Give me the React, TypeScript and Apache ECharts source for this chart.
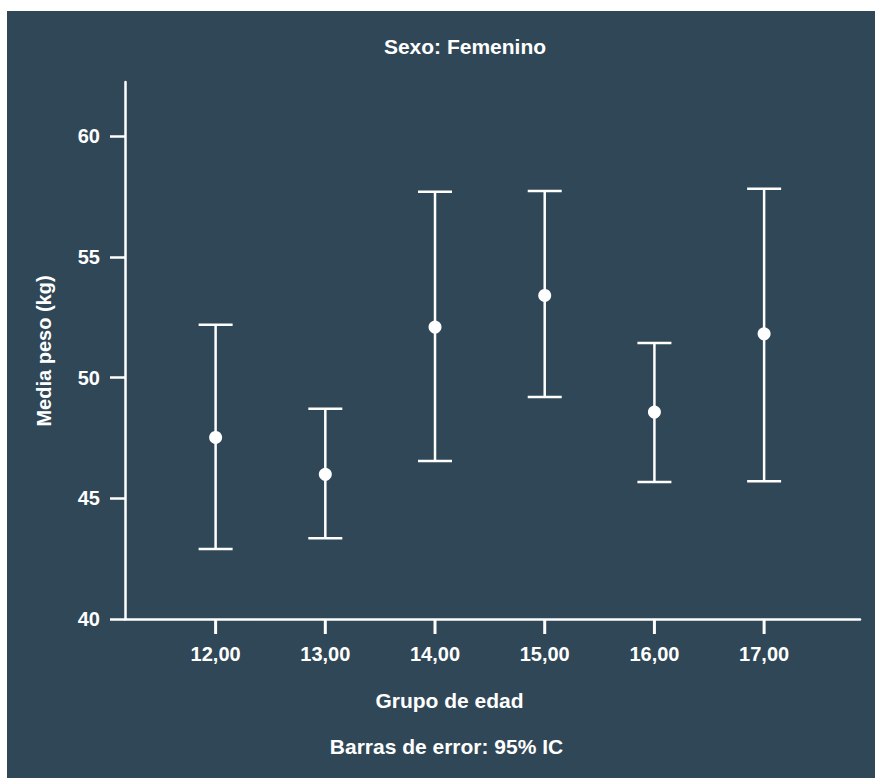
import React, { useEffect, useRef } from "react";
import * as echarts from "echarts";

// Age groups and mean weight with 95% confidence interval bounds
const ageGroups = [12, 13, 14, 15, 16, 17];
const meanWeight = [47.52, 45.99, 52.09, 53.4, 48.57, 51.81];
const lowerCI = [42.9, 43.34, 46.54, 49.19, 45.67, 45.71];
const upperCI = [52.19, 48.71, 57.69, 57.73, 51.43, 57.82];
const yTicks = [40, 45, 50, 55, 60];

const titleText = "Sexo: Femenino";
const xAxisTitle = "Grupo de edad";
const yAxisTitle = "Media peso (kg)";
const footerText = "Barras de error: 95% IC";

const BG = "#2f4756";
const FG = "#ffffff";
const FONT = '"Liberation Sans", Arial, Helvetica, sans-serif';
const Y_MIN = 40;
const TICK_LEN = 15;

export default function App() {
  const ref = useRef<HTMLDivElement>(null);

  useEffect(() => {
    if (!ref.current) return;
    const chart = echarts.init(ref.current, null, { renderer: "svg" });

    const errorData = ageGroups.map((g, i) => [g, lowerCI[i], upperCI[i]]);
    const pointData = ageGroups.map((g, i) => [g, meanWeight[i]]);

    const centered = {
      align: "center",
      verticalAlign: "middle",
      textAlign: "center",
      textVerticalAlign: "middle",
    };

    const option: any = {
      animation: false,
      backgroundColor: BG,
      grid: { left: 118, top: 71, right: 15, bottom: 159, containLabel: false },
      xAxis: {
        type: "value",
        min: 11.174,
        max: 17.874,
        splitLine: { show: false },
        axisLine: { show: true, onZero: false, lineStyle: { color: FG, width: 2.5 } },
        axisTick: { show: false },
        axisLabel: {
          customValues: ageGroups,
          color: FG,
          fontFamily: FONT,
          fontWeight: "bold",
          fontSize: 20,
          margin: 25,
          formatter: (v: number) => v.toFixed(2).replace(".", ","),
        },
      },
      yAxis: {
        type: "value",
        min: Y_MIN,
        max: 62.24,
        interval: 5,
        splitLine: { show: false },
        axisLine: { show: true, onZero: false, lineStyle: { color: FG, width: 2.5 } },
        axisTick: {
          show: true,
          length: TICK_LEN,
          customValues: yTicks,
          lineStyle: { color: FG, width: 2.5 },
        },
        axisLabel: {
          customValues: yTicks,
          color: FG,
          fontFamily: FONT,
          fontWeight: "bold",
          fontSize: 20,
          margin: 25,
        },
      },
      graphic: [
        {
          type: "text",
          x: 458,
          y: 35,
          style: { text: titleText, fill: FG, font: `bold 21px ${FONT}`, ...centered },
        },
        {
          type: "text",
          x: 442.5,
          y: 689,
          style: { text: xAxisTitle, fill: FG, font: `bold 21px ${FONT}`, ...centered },
        },
        {
          type: "text",
          x: 37,
          y: 340,
          rotation: Math.PI / 2,
          style: { text: yAxisTitle, fill: FG, font: `bold 20px ${FONT}`, ...centered },
        },
        {
          type: "text",
          x: 439.5,
          y: 735,
          style: { text: footerText, fill: FG, font: `bold 21px ${FONT}`, ...centered },
        },
      ],
      series: [
        {
          // error bars with caps, plus the x-axis tick below each age group
          type: "custom",
          name: "IC 95%",
          data: errorData,
          clip: false,
          encode: { x: 0, y: [1, 2] },
          renderItem: (params: any, api: any) => {
            const x = api.value(0);
            const lo = api.coord([x, api.value(1)]);
            const hi = api.coord([x, api.value(2)]);
            const base = api.coord([x, Y_MIN]);
            const half = 17;
            const style = { stroke: FG, lineWidth: 2.5 };
            return {
              type: "group",
              children: [
                { type: "line", shape: { x1: lo[0], y1: lo[1], x2: hi[0], y2: hi[1] }, style },
                { type: "line", shape: { x1: hi[0] - half, y1: hi[1], x2: hi[0] + half, y2: hi[1] }, style },
                { type: "line", shape: { x1: lo[0] - half, y1: lo[1], x2: lo[0] + half, y2: lo[1] }, style },
                {
                  type: "rect",
                  shape: { x: base[0] - 1.5, y: base[1], width: 3, height: TICK_LEN },
                  style: { fill: FG },
                },
              ],
            };
          },
          z: 2,
        },
        {
          type: "scatter",
          name: "Media",
          data: pointData,
          symbol: "circle",
          symbolSize: 13,
          itemStyle: { color: FG, opacity: 1 },
          z: 3,
        },
      ],
    };

    chart.setOption(option);
    return () => chart.dispose();
  }, []);

  return (
    <div
      ref={ref}
      style={{ position: "absolute", left: 7, top: 11, width: 868, height: 767 }}
    />
  );
}
